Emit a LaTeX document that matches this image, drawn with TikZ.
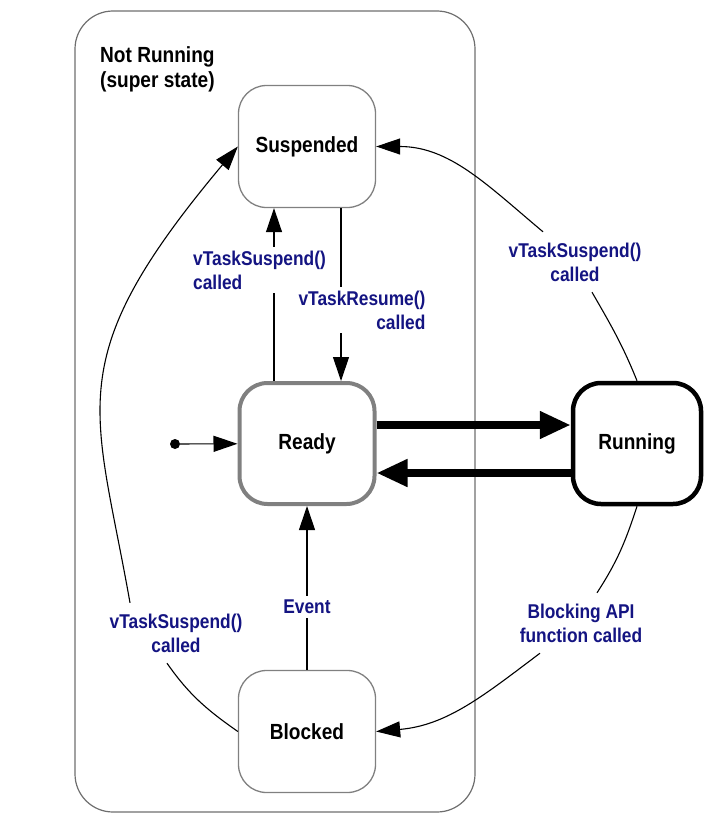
\documentclass[tikz,border=0pt]{standalone}
\usepackage{fontspec}
\setmainfont{Liberation Sans}[FakeStretch=0.87]
\usepackage{tikz}
\usetikzlibrary{%
  arrows.meta,%
  calc,%
  positioning}
\definecolor{callblue}{RGB}{20,20,130}
\definecolor{framegray}{RGB}{110,110,110}
\definecolor{stategray}{RGB}{128,128,128}

\begin{document}
\begin{tikzpicture}[x=1bp,y=1bp,
    statebox/.style={draw=stategray,line width=1.3bp,rounded corners=28bp,fill=white,
      minimum width=137bp,minimum height=122bp,font=\fontsize{22}{26}\selectfont\bfseries},
    calltext/.style={text=callblue,align=center,inner sep=4bp,
      font=\fontsize{20}{24}\selectfont\bfseries},
    splitlabel/.style={calltext,minimum height=60bp},
    link/.style={line width=1.1bp},
    trans/.style={link,-{Triangle[length=24bp,width=16bp]}},
    fat/.style={line width=7.5bp,-{Triangle[length=31bp,width=26bp]}}]
      \useasboundingbox (0,0) rectangle (704,-814);
      \draw[framegray,line width=1.2bp,rounded corners=38bp] (75,-11) rectangle (475,-812);
      \node[anchor=north west,inner sep=0pt,align=left,font=\fontsize{22}{26}\selectfont\bfseries]
        (title) at (100,-46) {Not Running\\(super state)};
      \node[statebox] (susp) at (307,-146.5) {Suspended};
      \node[statebox,line width=4bp,minimum width=135bp,minimum height=121bp] (ready) at (307,-443.5) {Ready};
      \node[statebox,draw=black,line width=4.5bp,minimum width=128bp,minimum height=121bp] (running) at (637,-443.5) {Running};
      \node[statebox] (blocked) at (307,-731.5) {Blocked};
      \node[circle,fill=black,inner sep=0pt,minimum size=10bp] (start) at (175,-444) {};
      \draw[trans] (start) -- (ready);
      \draw[trans] ([xshift=-33bp]ready.north) -- ([xshift=-33bp]susp.south);
      \draw[trans] ([xshift=34bp]susp.south) -- ([xshift=34bp]ready.north);
      \draw[trans] (blocked) -- (ready);
      \draw[fat] ([yshift=18.5bp]ready.east) -- ([yshift=18.5bp]running.west);
      \draw[fat] ([yshift=-29.5bp]running.west) -- ([yshift=-29.5bp]ready.east);
      \node[calltext,fill=white,align=left] (suspcall) at (259.5,-270) {vTaskSuspend()\\called};
      \node[calltext,fill=white,align=right] (resumecall) at (362,-310) {vTaskResume()\\called};
      \node[calltext,fill=white] (event) at (307,-607) {Event};
      \node[splitlabel] (runsusp) at (575,-262) {vTaskSuspend()\\called};
      \node[splitlabel] (blockcall) at (581,-623) {Blocking API\\function called};
      \node[splitlabel] (blocksusp) at (176,-633) {vTaskSuspend()\\called};
      \draw[link] (running.north) to[out=112,in=-60] ([xshift=17bp]runsusp.south);
      \draw[trans] ([xshift=-32bp]runsusp.north) to[out=140,in=0] (susp.east);
      \draw[link] (running.south) to[out=-108,in=57] ([xshift=16bp]blockcall.north);
      \draw[trans] ([xshift=-41bp]blockcall.south) to[out=-143,in=5] (blocked.east);
      \draw[link] (blocked.west) to[out=145,in=-55] ([xshift=-9bp]blocksusp.south);
      \draw[trans] ([xshift=-46bp]blocksusp.north) to[out=100,in=230,out distance=200bp,in distance=280bp] (susp.west);
\end{tikzpicture}
\end{document}
